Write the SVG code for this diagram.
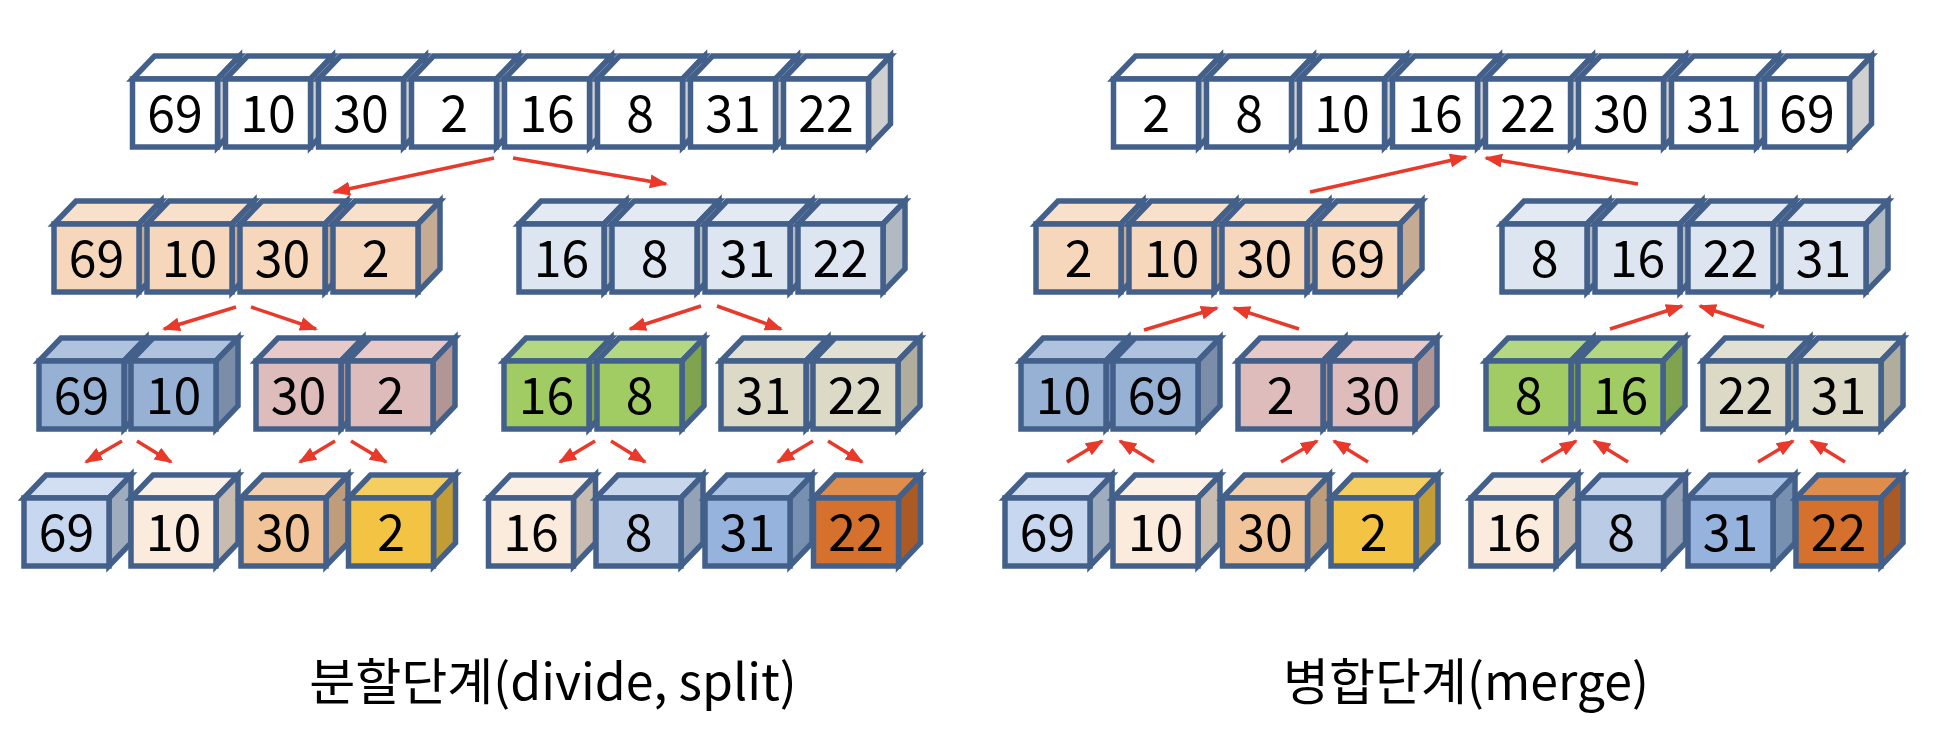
<svg xmlns="http://www.w3.org/2000/svg" xmlns:xlink="http://www.w3.org/1999/xlink" width="1938" height="752" viewBox="0 0 1938 752">
<style>
.cube use{stroke:#43608B;stroke-width:5.5;stroke-linejoin:miter}
.cube text{font-family:"Noto Sans CJK KR","Noto Sans",sans-serif;font-size:50px;text-anchor:middle;fill:#000}
.w .f,.w .t{fill:#fff}.w .s{fill:#D0D0D0}
.pe .f{fill:#F6D7BB}.pe .t{fill:#F8E0CA}.pe .s{fill:#C5AB94}
.lb .f{fill:#DDE5F1}.lb .t{fill:#E4EAF4}.lb .s{fill:#B1B9C3}
.bl .f{fill:#97B1D5}.bl .t{fill:#AFC2DE}.bl .s{fill:#7C8DAA}
.pk .f{fill:#DEBCBB}.pk .t{fill:#E6C9C8}.pk .s{fill:#B29695}
.gr .f{fill:#A0CC63}.gr .t{fill:#B3D881}.gr .s{fill:#80A34F}
.tn .f{fill:#DCD9C6}.tn .t{fill:#E2E0D2}.tn .s{fill:#B0AD9E}
.sk .f{fill:#C6D7EF}.sk .t{fill:#D2DFF2}.sk .s{fill:#9EACBE}
.cr .f{fill:#FAEBDD}.cr .t{fill:#FBF0E5}.cr .s{fill:#C8BCB1}
.ap .f{fill:#F0C498}.ap .t{fill:#F2D0AE}.ap .s{fill:#C09D7A}
.gd .f{fill:#F3C343}.gd .t{fill:#F5CE62}.gd .s{fill:#C29C35}
.st .f{fill:#B9CBE5}.st .t{fill:#C8D6EB}.st .s{fill:#94A2B7}
.mb .f{fill:#95B3DC}.mb .t{fill:#A9C2E3}.mb .s{fill:#7790B0}
.or .f{fill:#D5712D}.or .t{fill:#DE8D4D}.or .s{fill:#AA5A24}
.conn line{stroke:#E8392B;stroke-width:3.5;marker-end:url(#ah)}
.label{font-family:"Noto Sans CJK KR","Noto Sans",sans-serif;font-size:50px;text-anchor:middle;fill:#000}
</style>
<defs>
<path id="ct" d="M0,0 L22,-23 H107 L85,0 Z"/>
<path id="cs" d="M85,0 L107,-23 V45 L85,68 Z"/>
<rect id="cf" x="0" y="0" width="85" height="68"/>
<marker id="ah" markerUnits="userSpaceOnUse" markerWidth="20" markerHeight="16" refX="16" refY="7" orient="auto"><path d="M0,0 L18,7 L0,14 Z" fill="#E8392B"/></marker>
</defs>
<rect width="1938" height="752" fill="#fff"/>

<!-- LEFT: divide -->
<g id="L0">
<g class="cube w" transform="translate(132.5,79)"><use href="#ct" class="t"/><use href="#cs" class="s"/><use href="#cf" class="f"/><text x="42.5" y="53">69</text></g>
<g class="cube w" transform="translate(225.5,79)"><use href="#ct" class="t"/><use href="#cs" class="s"/><use href="#cf" class="f"/><text x="42.5" y="53">10</text></g>
<g class="cube w" transform="translate(318.5,79)"><use href="#ct" class="t"/><use href="#cs" class="s"/><use href="#cf" class="f"/><text x="42.5" y="53">30</text></g>
<g class="cube w" transform="translate(411.5,79)"><use href="#ct" class="t"/><use href="#cs" class="s"/><use href="#cf" class="f"/><text x="42.5" y="53">2</text></g>
<g class="cube w" transform="translate(504.5,79)"><use href="#ct" class="t"/><use href="#cs" class="s"/><use href="#cf" class="f"/><text x="42.5" y="53">16</text></g>
<g class="cube w" transform="translate(597.5,79)"><use href="#ct" class="t"/><use href="#cs" class="s"/><use href="#cf" class="f"/><text x="42.5" y="53">8</text></g>
<g class="cube w" transform="translate(690.5,79)"><use href="#ct" class="t"/><use href="#cs" class="s"/><use href="#cf" class="f"/><text x="42.5" y="53">31</text></g>
<g class="cube w" transform="translate(783.5,79)"><use href="#ct" class="t"/><use href="#cs" class="s"/><use href="#cf" class="f"/><text x="42.5" y="53">22</text></g>
</g>
<g id="L1a">
<g class="cube pe" transform="translate(54,224)"><use href="#ct" class="t"/><use href="#cs" class="s"/><use href="#cf" class="f"/><text x="42.5" y="53">69</text></g>
<g class="cube pe" transform="translate(147,224)"><use href="#ct" class="t"/><use href="#cs" class="s"/><use href="#cf" class="f"/><text x="42.5" y="53">10</text></g>
<g class="cube pe" transform="translate(240,224)"><use href="#ct" class="t"/><use href="#cs" class="s"/><use href="#cf" class="f"/><text x="42.5" y="53">30</text></g>
<g class="cube pe" transform="translate(333,224)"><use href="#ct" class="t"/><use href="#cs" class="s"/><use href="#cf" class="f"/><text x="42.5" y="53">2</text></g>
</g>
<g id="L1b">
<g class="cube lb" transform="translate(519,224)"><use href="#ct" class="t"/><use href="#cs" class="s"/><use href="#cf" class="f"/><text x="42.5" y="53">16</text></g>
<g class="cube lb" transform="translate(612,224)"><use href="#ct" class="t"/><use href="#cs" class="s"/><use href="#cf" class="f"/><text x="42.5" y="53">8</text></g>
<g class="cube lb" transform="translate(705,224)"><use href="#ct" class="t"/><use href="#cs" class="s"/><use href="#cf" class="f"/><text x="42.5" y="53">31</text></g>
<g class="cube lb" transform="translate(798,224)"><use href="#ct" class="t"/><use href="#cs" class="s"/><use href="#cf" class="f"/><text x="42.5" y="53">22</text></g>
</g>
<g id="L2a">
<g class="cube bl" transform="translate(39,361)"><use href="#ct" class="t"/><use href="#cs" class="s"/><use href="#cf" class="f"/><text x="42.5" y="53">69</text></g>
<g class="cube bl" transform="translate(131,361)"><use href="#ct" class="t"/><use href="#cs" class="s"/><use href="#cf" class="f"/><text x="42.5" y="53">10</text></g>
</g>
<g id="L2b">
<g class="cube pk" transform="translate(256,361)"><use href="#ct" class="t"/><use href="#cs" class="s"/><use href="#cf" class="f"/><text x="42.5" y="53">30</text></g>
<g class="cube pk" transform="translate(348,361)"><use href="#ct" class="t"/><use href="#cs" class="s"/><use href="#cf" class="f"/><text x="42.5" y="53">2</text></g>
</g>
<g id="L2c">
<g class="cube gr" transform="translate(504,361)"><use href="#ct" class="t"/><use href="#cs" class="s"/><use href="#cf" class="f"/><text x="42.5" y="53">16</text></g>
<g class="cube gr" transform="translate(597,361)"><use href="#ct" class="t"/><use href="#cs" class="s"/><use href="#cf" class="f"/><text x="42.5" y="53">8</text></g>
</g>
<g id="L2d">
<g class="cube tn" transform="translate(721,361)"><use href="#ct" class="t"/><use href="#cs" class="s"/><use href="#cf" class="f"/><text x="42.5" y="53">31</text></g>
<g class="cube tn" transform="translate(813,361)"><use href="#ct" class="t"/><use href="#cs" class="s"/><use href="#cf" class="f"/><text x="42.5" y="53">22</text></g>
</g>
<g id="L3a"><g class="cube sk" transform="translate(24,498)"><use href="#ct" class="t"/><use href="#cs" class="s"/><use href="#cf" class="f"/><text x="42.5" y="53">69</text></g></g>
<g id="L3b"><g class="cube cr" transform="translate(131,498)"><use href="#ct" class="t"/><use href="#cs" class="s"/><use href="#cf" class="f"/><text x="42.5" y="53">10</text></g></g>
<g id="L3c"><g class="cube ap" transform="translate(241,498)"><use href="#ct" class="t"/><use href="#cs" class="s"/><use href="#cf" class="f"/><text x="42.5" y="53">30</text></g></g>
<g id="L3d"><g class="cube gd" transform="translate(348.5,498)"><use href="#ct" class="t"/><use href="#cs" class="s"/><use href="#cf" class="f"/><text x="42.5" y="53">2</text></g></g>
<g id="L3e"><g class="cube cr" transform="translate(488.5,498)"><use href="#ct" class="t"/><use href="#cs" class="s"/><use href="#cf" class="f"/><text x="42.5" y="53">16</text></g></g>
<g id="L3f"><g class="cube st" transform="translate(596,498)"><use href="#ct" class="t"/><use href="#cs" class="s"/><use href="#cf" class="f"/><text x="42.5" y="53">8</text></g></g>
<g id="L3g"><g class="cube mb" transform="translate(705,498)"><use href="#ct" class="t"/><use href="#cs" class="s"/><use href="#cf" class="f"/><text x="42.5" y="53">31</text></g></g>
<g id="L3h"><g class="cube or" transform="translate(813.5,498)"><use href="#ct" class="t"/><use href="#cs" class="s"/><use href="#cf" class="f"/><text x="42.5" y="53">22</text></g></g>

<!-- RIGHT: merge -->
<g id="R0">
<g class="cube w" transform="translate(1113.5,79)"><use href="#ct" class="t"/><use href="#cs" class="s"/><use href="#cf" class="f"/><text x="42.5" y="53">2</text></g>
<g class="cube w" transform="translate(1206.5,79)"><use href="#ct" class="t"/><use href="#cs" class="s"/><use href="#cf" class="f"/><text x="42.5" y="53">8</text></g>
<g class="cube w" transform="translate(1299.5,79)"><use href="#ct" class="t"/><use href="#cs" class="s"/><use href="#cf" class="f"/><text x="42.5" y="53">10</text></g>
<g class="cube w" transform="translate(1392.5,79)"><use href="#ct" class="t"/><use href="#cs" class="s"/><use href="#cf" class="f"/><text x="42.5" y="53">16</text></g>
<g class="cube w" transform="translate(1485.5,79)"><use href="#ct" class="t"/><use href="#cs" class="s"/><use href="#cf" class="f"/><text x="42.5" y="53">22</text></g>
<g class="cube w" transform="translate(1578.5,79)"><use href="#ct" class="t"/><use href="#cs" class="s"/><use href="#cf" class="f"/><text x="42.5" y="53">30</text></g>
<g class="cube w" transform="translate(1671.5,79)"><use href="#ct" class="t"/><use href="#cs" class="s"/><use href="#cf" class="f"/><text x="42.5" y="53">31</text></g>
<g class="cube w" transform="translate(1764.5,79)"><use href="#ct" class="t"/><use href="#cs" class="s"/><use href="#cf" class="f"/><text x="42.5" y="53">69</text></g>
</g>
<g id="R1a">
<g class="cube pe" transform="translate(1036,224)"><use href="#ct" class="t"/><use href="#cs" class="s"/><use href="#cf" class="f"/><text x="42.5" y="53">2</text></g>
<g class="cube pe" transform="translate(1129,224)"><use href="#ct" class="t"/><use href="#cs" class="s"/><use href="#cf" class="f"/><text x="42.5" y="53">10</text></g>
<g class="cube pe" transform="translate(1222,224)"><use href="#ct" class="t"/><use href="#cs" class="s"/><use href="#cf" class="f"/><text x="42.5" y="53">30</text></g>
<g class="cube pe" transform="translate(1315,224)"><use href="#ct" class="t"/><use href="#cs" class="s"/><use href="#cf" class="f"/><text x="42.5" y="53">69</text></g>
</g>
<g id="R1b">
<g class="cube lb" transform="translate(1502,224)"><use href="#ct" class="t"/><use href="#cs" class="s"/><use href="#cf" class="f"/><text x="42.5" y="53">8</text></g>
<g class="cube lb" transform="translate(1595,224)"><use href="#ct" class="t"/><use href="#cs" class="s"/><use href="#cf" class="f"/><text x="42.5" y="53">16</text></g>
<g class="cube lb" transform="translate(1688,224)"><use href="#ct" class="t"/><use href="#cs" class="s"/><use href="#cf" class="f"/><text x="42.5" y="53">22</text></g>
<g class="cube lb" transform="translate(1781,224)"><use href="#ct" class="t"/><use href="#cs" class="s"/><use href="#cf" class="f"/><text x="42.5" y="53">31</text></g>
</g>
<g id="R2a">
<g class="cube bl" transform="translate(1021,361)"><use href="#ct" class="t"/><use href="#cs" class="s"/><use href="#cf" class="f"/><text x="42.5" y="53">10</text></g>
<g class="cube bl" transform="translate(1113,361)"><use href="#ct" class="t"/><use href="#cs" class="s"/><use href="#cf" class="f"/><text x="42.5" y="53">69</text></g>
</g>
<g id="R2b">
<g class="cube pk" transform="translate(1238,361)"><use href="#ct" class="t"/><use href="#cs" class="s"/><use href="#cf" class="f"/><text x="42.5" y="53">2</text></g>
<g class="cube pk" transform="translate(1330,361)"><use href="#ct" class="t"/><use href="#cs" class="s"/><use href="#cf" class="f"/><text x="42.5" y="53">30</text></g>
</g>
<g id="R2c">
<g class="cube gr" transform="translate(1486,361)"><use href="#ct" class="t"/><use href="#cs" class="s"/><use href="#cf" class="f"/><text x="42.5" y="53">8</text></g>
<g class="cube gr" transform="translate(1578,361)"><use href="#ct" class="t"/><use href="#cs" class="s"/><use href="#cf" class="f"/><text x="42.5" y="53">16</text></g>
</g>
<g id="R2d">
<g class="cube tn" transform="translate(1703,361)"><use href="#ct" class="t"/><use href="#cs" class="s"/><use href="#cf" class="f"/><text x="42.5" y="53">22</text></g>
<g class="cube tn" transform="translate(1796,361)"><use href="#ct" class="t"/><use href="#cs" class="s"/><use href="#cf" class="f"/><text x="42.5" y="53">31</text></g>
</g>
<g id="R3a"><g class="cube sk" transform="translate(1005,498)"><use href="#ct" class="t"/><use href="#cs" class="s"/><use href="#cf" class="f"/><text x="42.5" y="53">69</text></g></g>
<g id="R3b"><g class="cube cr" transform="translate(1113,498)"><use href="#ct" class="t"/><use href="#cs" class="s"/><use href="#cf" class="f"/><text x="42.5" y="53">10</text></g></g>
<g id="R3c"><g class="cube ap" transform="translate(1222.5,498)"><use href="#ct" class="t"/><use href="#cs" class="s"/><use href="#cf" class="f"/><text x="42.5" y="53">30</text></g></g>
<g id="R3d"><g class="cube gd" transform="translate(1331,498)"><use href="#ct" class="t"/><use href="#cs" class="s"/><use href="#cf" class="f"/><text x="42.5" y="53">2</text></g></g>
<g id="R3e"><g class="cube cr" transform="translate(1471,498)"><use href="#ct" class="t"/><use href="#cs" class="s"/><use href="#cf" class="f"/><text x="42.5" y="53">16</text></g></g>
<g id="R3f"><g class="cube st" transform="translate(1578.5,498)"><use href="#ct" class="t"/><use href="#cs" class="s"/><use href="#cf" class="f"/><text x="42.5" y="53">8</text></g></g>
<g id="R3g"><g class="cube mb" transform="translate(1688,498)"><use href="#ct" class="t"/><use href="#cs" class="s"/><use href="#cf" class="f"/><text x="42.5" y="53">31</text></g></g>
<g id="R3h"><g class="cube or" transform="translate(1796,498)"><use href="#ct" class="t"/><use href="#cs" class="s"/><use href="#cf" class="f"/><text x="42.5" y="53">22</text></g></g>

<g id="connectors" class="conn">
<line x1="494" y1="158" x2="334" y2="192"/>
<line x1="513" y1="158" x2="666" y2="184"/>
<line x1="236" y1="307" x2="164" y2="329"/>
<line x1="251" y1="307" x2="316" y2="329"/>
<line x1="701" y1="306" x2="630" y2="329"/>
<line x1="717" y1="306" x2="781" y2="329"/>
<line x1="122" y1="441" x2="86" y2="462"/>
<line x1="137" y1="441" x2="171" y2="462"/>
<line x1="335" y1="441" x2="300" y2="462"/>
<line x1="351" y1="441" x2="386" y2="462"/>
<line x1="595" y1="441" x2="560" y2="462"/>
<line x1="611" y1="441" x2="645" y2="462"/>
<line x1="813" y1="441" x2="778" y2="462"/>
<line x1="828" y1="441" x2="862" y2="462"/>
<line x1="1310" y1="192" x2="1466" y2="157"/>
<line x1="1638" y1="184" x2="1486" y2="158"/>
<line x1="1144" y1="330" x2="1217" y2="308"/>
<line x1="1299" y1="329" x2="1234" y2="308"/>
<line x1="1610" y1="329" x2="1682" y2="306"/>
<line x1="1764" y1="327" x2="1700" y2="306"/>
<line x1="1067" y1="462" x2="1102" y2="441"/>
<line x1="1154" y1="462" x2="1120" y2="441"/>
<line x1="1281" y1="462" x2="1317" y2="441"/>
<line x1="1368" y1="462" x2="1334" y2="441"/>
<line x1="1541" y1="462" x2="1576" y2="441"/>
<line x1="1628" y1="462" x2="1594" y2="441"/>
<line x1="1758" y1="462" x2="1793" y2="441"/>
<line x1="1845" y1="462" x2="1811" y2="441"/>
</g>

<text class="label" x="553" y="700">분할단계(divide, split)</text>
<text class="label" x="1466" y="700">병합단계(merge)</text>
</svg>
